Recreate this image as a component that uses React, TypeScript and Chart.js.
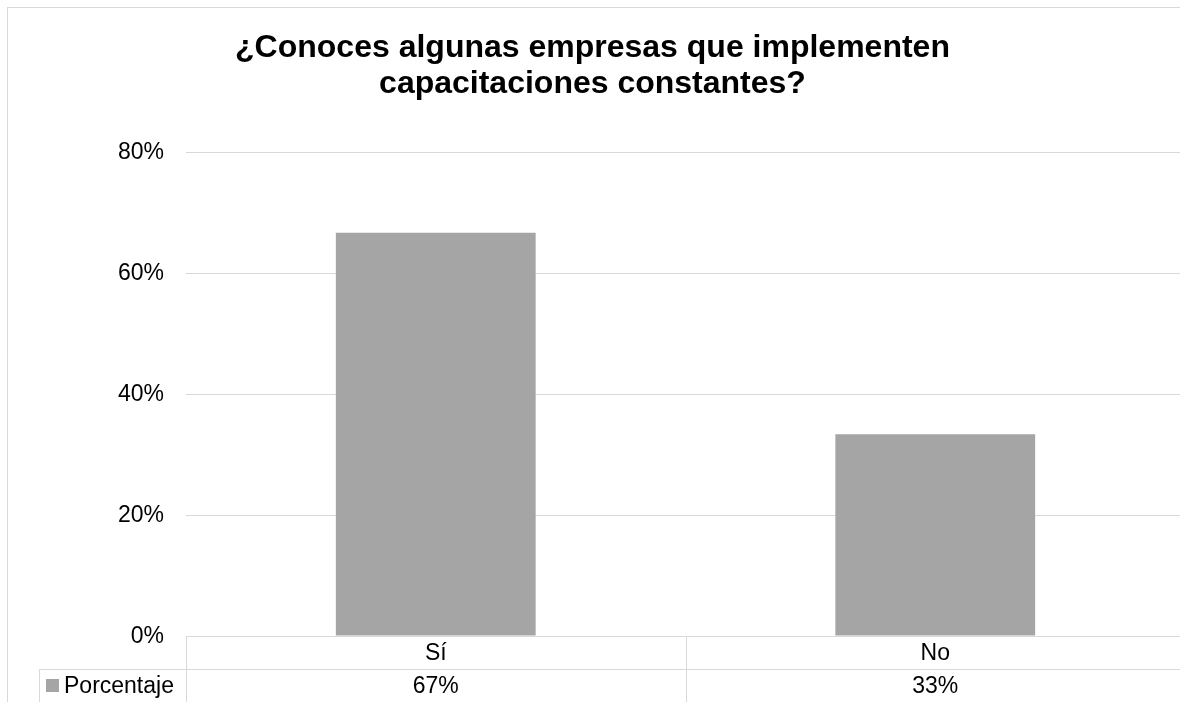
import React, { useEffect, useRef } from 'react';
import { Chart, registerables } from 'chart.js';

Chart.register(...registerables);

const categories: string[] = ['Sí', 'No'];
const seriesName = 'Porcentaje';
const values: number[] = [66.67, 33.33];
const yTickMin = 0;
const yTickMax = 80;
const yTickStep = 20;
const titleLines: string[] = ['¿Conoces algunas empresas que implementen', 'capacitaciones constantes?'];

const FONT = '"Liberation Sans", Arial, sans-serif';
const GRID = '#d9d9d9';
const BAR = '#a5a5a5';
const TEXT = '#000000';
const LABEL_SIZE = 23;

const CANVAS_W = 1192;
const CANVAS_H = 712;

const fmtPct = (v: number) => `${Math.round(v)}%`;

const dataTablePlugin = {
  id: 'dataTable',
  afterDraw(chart: any) {
    const { ctx, chartArea, scales } = chart;
    const x = scales.x;
    const top = Math.round(chartArea.bottom);
    const rowH = 33;
    const row2 = top + rowH;
    const bottom = chart.height;
    const left = 39;
    const right = chartArea.right;
    ctx.save();
    ctx.strokeStyle = GRID;
    ctx.lineWidth = 1;
    const line = (x1: number, y1: number, x2: number, y2: number) => {
      ctx.beginPath();
      ctx.moveTo(x1, y1);
      ctx.lineTo(x2, y2);
      ctx.stroke();
    };
    // row separator
    line(left, row2 + 0.5, right, row2 + 0.5);
    // category boundaries
    const n = categories.length;
    for (let i = 0; i <= n; i++) {
      let px: number;
      if (i === 0) px = chartArea.left;
      else if (i === n) px = chartArea.right;
      else px = (x.getPixelForValue(i - 1) + x.getPixelForValue(i)) / 2;
      px = Math.round(px) + 0.5;
      line(px, top, px, bottom);
    }
    // legend cell left edge
    line(left + 0.5, row2, left + 0.5, bottom);
    // outer chart border (top and left visible)
    line(7, 7.5, chart.width, 7.5);
    line(7.5, 7, 7.5, chart.height);

    // legend key + name
    ctx.fillStyle = BAR;
    ctx.fillRect(46, row2 + 10, 13, 13);
    ctx.fillStyle = TEXT;
    ctx.font = `${LABEL_SIZE}px ${FONT}`;
    ctx.textBaseline = 'middle';
    ctx.textAlign = 'left';
    ctx.fillText(seriesName, 64, row2 + 18);
    // values row
    ctx.textAlign = 'center';
    values.forEach((v, i) => {
      ctx.fillText(fmtPct(v), x.getPixelForValue(i), row2 + 18);
    });
    ctx.restore();
  },
};

export default function App() {
  const canvasRef = useRef<HTMLCanvasElement | null>(null);

  useEffect(() => {
    const canvas = canvasRef.current;
    if (!canvas) return;
    const chart = new Chart(canvas, {
      type: 'bar',
      data: {
        labels: categories,
        datasets: [
          {
            label: seriesName,
            data: values,
            backgroundColor: BAR,
            borderWidth: 0,
            barPercentage: 0.4,
            categoryPercentage: 1,
          },
        ],
      },
      options: {
        responsive: false,
        animation: false,
        devicePixelRatio: 1,
        layout: { padding: { top: 0, left: 0, right: 7, bottom: 0 } },
        plugins: {
          legend: { display: false },
          tooltip: { enabled: false },
          title: {
            display: true,
            text: titleLines,
            color: TEXT,
            font: { family: FONT, size: 32, weight: 'bold', lineHeight: 1.1 },
            padding: { top: 31, bottom: 50.6 },
          },
        },
        scales: {
          x: {
            grid: { display: false, drawTicks: false },
            border: { display: true, color: GRID, width: 1 },
            ticks: {
              color: TEXT,
              font: { family: FONT, size: LABEL_SIZE },
              padding: 4,
              maxRotation: 0,
            },
            afterFit: (scale: any) => {
              scale.height = CANVAS_H - 636;
            },
          },
          y: {
            min: yTickMin,
            max: yTickMax,
            ticks: {
              stepSize: yTickStep,
              color: TEXT,
              font: { family: FONT, size: LABEL_SIZE },
              padding: 22,
              labelOffset: 1,
              callback: (v: any) => `${v}%`,
            },
            grid: { color: GRID, lineWidth: 1, drawTicks: false },
            border: { display: false },
            afterFit: (scale: any) => {
              scale.width = 186;
            },
          },
        },
      },
      plugins: [dataTablePlugin],
    });
    return () => chart.destroy();
  }, []);

  return (
    <div
      style={{
        position: 'fixed',
        left: 0,
        top: 0,
        width: 1180,
        height: 702,
        overflow: 'hidden',
        background: '#ffffff',
      }}
    >
      <canvas
        ref={canvasRef}
        width={CANVAS_W}
        height={CANVAS_H}
        style={{ width: CANVAS_W, height: CANVAS_H, display: 'block' }}
      />
    </div>
  );
}
